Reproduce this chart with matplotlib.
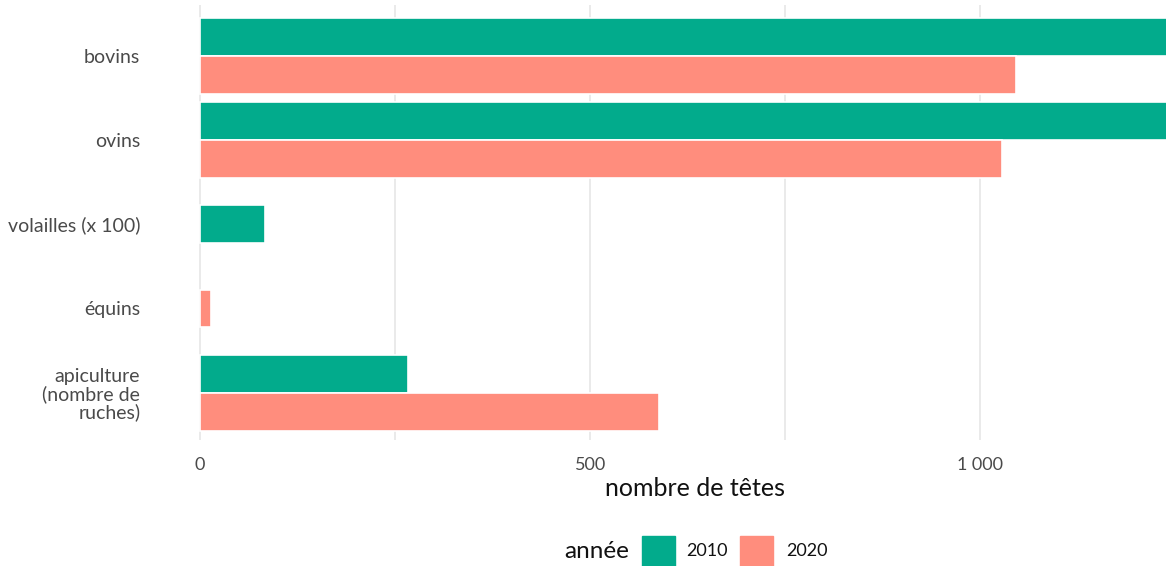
import numpy as np
import matplotlib
matplotlib.use("Agg")
import matplotlib.pyplot as plt
from matplotlib.patches import Rectangle

plt.rcParams['font.family'] = ['Lato', 'DejaVu Sans']

# données (nombre de têtes)
categories = ["bovins", "ovins", "volailles (x 100)", "équins",
              "apiculture\n(nombre de\nruches)"]
annees = ["2010", "2020"]
val_2010 = [1400, 1390, 83, np.nan, 267]
val_2020 = [1046, 1028, np.nan, 14, 588]
couleurs = ["#02AB8C", "#FF8D7D"]
xticks = [0, 500, 1000]
xtick_labels = ["0", "500", "1\u202f000"]

fig = plt.figure(figsize=(11.66, 5.66), dpi=100)
ax = fig.add_axes([150 / 1166, 126 / 566, 1016 / 1166, 435 / 566])

n = len(categories)
ypos = np.arange(n)[::-1]
h = 0.45
series = [val_2010, val_2020]
for i in range(n):
    present = [k for k in range(2) if not np.isnan(series[k][i])]
    for j, k in enumerate(present):
        if len(present) == 2:
            y = ypos[i] + (h / 2 if k == 0 else -h / 2)
        else:
            y = ypos[i]
        ax.barh(y, series[k][i], height=h, color=couleurs[k],
                edgecolor="white", linewidth=1.2, zorder=3)

ax.set_xlim(-64, 1238)
ax.set_ylim(-0.56, n - 1 + 0.6)
ax.set_yticks(ypos)
ax.set_yticklabels(categories, fontsize=14, color="#4a4a4a",
                   linespacing=1.0)
ax.set_xticks(xticks)
ax.set_xticklabels(xtick_labels, fontsize=13, color="#4a4a4a")
ax.set_xticks([250, 750], minor=True)
ax.tick_params(axis="both", which="both", length=0)
ax.tick_params(axis="y", pad=7)
ax.tick_params(axis="x", pad=12)
ax.grid(axis="x", which="both", color="#e8e8e8", linewidth=1.3, zorder=0)
ax.grid(axis="y", visible=False)
for s in ax.spines.values():
    s.set_visible(False)

ax.set_xlabel("nombre de têtes", fontsize=18, color="#111111")
ax.xaxis.set_label_coords((695 - 150) / 1016, -0.085)

# légende en bas
fig.text(597 / 1166, 1 - 551 / 566, "année", fontsize=17.5, color="#111111",
         ha="center", va="center")
fig.patches.append(Rectangle((642 / 1166, 0), 33 / 1166, 30 / 566,
                             transform=fig.transFigure, color=couleurs[0]))
fig.text(707 / 1166, 1 - 551 / 566, annees[0], fontsize=13, color="#111111",
         ha="center", va="center")
fig.patches.append(Rectangle((740 / 1166, 0), 33 / 1166, 30 / 566,
                             transform=fig.transFigure, color=couleurs[1]))
fig.text(807 / 1166, 1 - 551 / 566, annees[1], fontsize=13, color="#111111",
         ha="center", va="center")

fig.savefig("out.png", dpi=100)
